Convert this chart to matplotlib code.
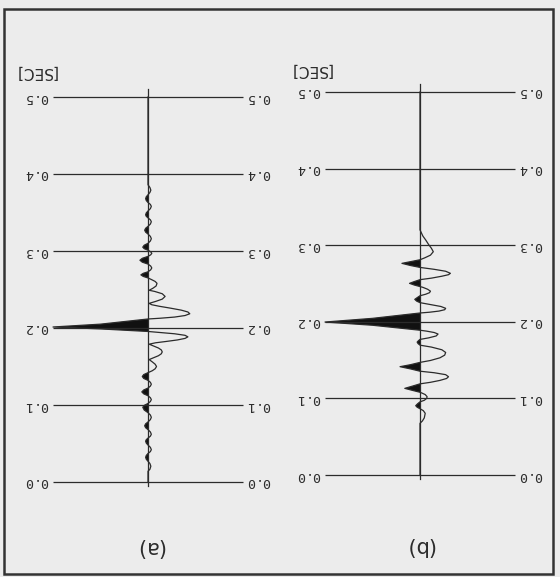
import matplotlib
matplotlib.use("Agg")
import matplotlib.pyplot as plt
import numpy as np
from matplotlib.patches import Rectangle

W, H, DPI = 560, 577, 100

time_ticks = [0.0, 0.1, 0.2, 0.3, 0.4, 0.5]
tick_labels = ["0.0", "0.1", "0.2", "0.3", "0.4", "0.5"]
panel_labels = ["(a)", "(b)"]
unit_label = "[SEC]"

# Trace (a): (time [s], amplitude normalised to the main peak; + is the filled side)
trace_a = [
    (0.000, 0.0), (0.014, 0.0),
    (0.0165, -0.02), (0.0205, -0.03), (0.024, -0.02), (0.027, 0.0),
    (0.0295, 0.018), (0.032, 0.025), (0.0345, 0.018), (0.037, 0.0),
    (0.0395, -0.025), (0.042, -0.035), (0.045, -0.025), (0.048, 0.0),
    (0.0505, 0.018), (0.053, 0.025), (0.055, 0.018), (0.057, 0.0),
    (0.0595, -0.025), (0.062, -0.035), (0.065, -0.025), (0.068, 0.0),
    (0.0705, 0.025), (0.073, 0.035), (0.0755, 0.025), (0.078, 0.0),
    (0.081, -0.025), (0.084, -0.035), (0.087, -0.025), (0.090, 0.0),
    (0.0935, 0.04), (0.097, 0.055), (0.0995, 0.04), (0.102, 0.0),
    (0.1045, -0.025), (0.107, -0.035), (0.1095, -0.025), (0.112, 0.0),
    (0.1145, 0.045), (0.117, 0.065), (0.1195, 0.045), (0.122, 0.0),
    (0.1245, -0.025), (0.127, -0.035), (0.1295, -0.025), (0.132, 0.0),
    (0.1345, 0.045), (0.137, 0.06), (0.1395, 0.045), (0.142, 0.0),
    (0.1445, -0.045), (0.147, -0.075), (0.150, -0.09), (0.153, -0.075),
    (0.156, -0.045), (0.159, -0.012),
    (0.1615, -0.06), (0.164, -0.11), (0.1665, -0.14), (0.169, -0.15),
    (0.1715, -0.14), (0.174, -0.11), (0.1765, -0.06), (0.179, -0.012),
    (0.1808, -0.08), (0.1825, -0.19), (0.1845, -0.31), (0.1865, -0.39),
    (0.1885, -0.42), (0.1905, -0.39), (0.1925, -0.28), (0.1940, -0.14),
    (0.1955, 0.0),
    (0.1988, 0.50), (0.2013, 1.00), (0.2050, 0.50), (0.2117, 0.0),
    (0.2127, -0.13), (0.2142, -0.28), (0.2162, -0.39), (0.2185, -0.44),
    (0.2208, -0.42), (0.2232, -0.35), (0.2257, -0.24), (0.2282, -0.12),
    (0.2302, -0.04), (0.232, -0.012),
    (0.2345, -0.08), (0.2375, -0.15), (0.241, -0.18), (0.2445, -0.15),
    (0.2475, -0.07), (0.249, -0.012),
    (0.2515, -0.05), (0.2545, -0.085), (0.258, -0.095), (0.2605, -0.075),
    (0.263, -0.035), (0.265, 0.0),
    (0.267, 0.05), (0.269, 0.075), (0.271, 0.05), (0.273, 0.0),
    (0.2755, -0.028), (0.278, -0.04), (0.2805, -0.028), (0.283, 0.0),
    (0.2855, 0.06), (0.288, 0.085), (0.2905, 0.06), (0.293, 0.0),
    (0.295, -0.028), (0.297, -0.04), (0.299, -0.028), (0.301, 0.0),
    (0.303, 0.04), (0.305, 0.055), (0.3075, 0.04), (0.310, 0.0),
    (0.313, -0.025), (0.316, -0.035), (0.319, -0.025), (0.322, 0.0),
    (0.3245, 0.025), (0.327, 0.035), (0.3295, 0.025), (0.332, 0.0),
    (0.335, -0.025), (0.338, -0.035), (0.3405, -0.025), (0.343, 0.0),
    (0.345, 0.018), (0.347, 0.025), (0.3495, 0.018), (0.352, 0.0),
    (0.355, -0.025), (0.358, -0.035), (0.3605, -0.025), (0.363, 0.0),
    (0.3655, 0.018), (0.368, 0.025), (0.3705, 0.018), (0.373, 0.0),
    (0.376, -0.02), (0.379, -0.03), (0.3825, -0.02), (0.386, 0.0),
    (0.500, 0.0),
]

# Trace (b)
trace_b = [
    (0.000, 0.0), (0.0675, 0.0),
    (0.0705, -0.025), (0.0745, -0.045), (0.0805, -0.055), (0.0840, -0.035),
    (0.0865, 0.0),
    (0.0885, 0.03), (0.0905, 0.045), (0.0930, 0.025), (0.0955, 0.0),
    (0.0975, -0.045), (0.1000, -0.07), (0.1022, -0.075), (0.1050, -0.055),
    (0.1070, -0.02), (0.108, 0.0),
    (0.1105, 0.08), (0.1131, 0.16), (0.1160, 0.08), (0.119, 0.0),
    (0.1210, -0.11), (0.1235, -0.21), (0.1260, -0.28), (0.1283, -0.30),
    (0.1310, -0.27), (0.1335, -0.15), (0.1355, 0.0),
    (0.1385, 0.10), (0.1414, 0.21), (0.1440, 0.10), (0.1470, 0.0),
    (0.1495, -0.11), (0.1530, -0.21), (0.1565, -0.26), (0.1600, -0.27),
    (0.1635, -0.23), (0.1670, -0.12), (0.1695, 0.0),
    (0.1715, 0.02), (0.1735, 0.03), (0.1755, 0.015), (0.1770, 0.0),
    (0.1790, -0.09), (0.1815, -0.17), (0.1840, -0.19), (0.1860, -0.15),
    (0.1878, -0.07), (0.1890, 0.0),
    (0.1955, 0.50), (0.1997, 1.00), (0.2045, 0.50), (0.2115, 0.0),
    (0.2125, -0.10), (0.2140, -0.20), (0.2158, -0.26), (0.2176, -0.27),
    (0.2200, -0.22), (0.2225, -0.11), (0.2250, 0.0),
    (0.2270, 0.035), (0.2293, 0.055), (0.2315, 0.03), (0.2340, 0.0),
    (0.2360, -0.06), (0.2380, -0.10), (0.2400, -0.11), (0.2425, -0.08),
    (0.2450, -0.03), (0.2460, 0.0),
    (0.2480, 0.06), (0.2502, 0.11), (0.2525, 0.06), (0.2550, 0.0),
    (0.2570, -0.12), (0.2595, -0.23), (0.2615, -0.30), (0.2633, -0.32),
    (0.2660, -0.27), (0.2685, -0.15), (0.2710, 0.0),
    (0.2735, 0.10), (0.2763, 0.19), (0.2785, 0.10), (0.2810, 0.0),
    (0.2835, -0.05), (0.2870, -0.11), (0.2915, -0.14), (0.2960, -0.12),
    (0.3010, -0.09), (0.3068, -0.06), (0.3120, -0.03), (0.3200, 0.0),
    (0.500, 0.0),
]

BG = "#ececec"
INK = "#2b2b2b"

fig = plt.figure(figsize=(W / DPI, H / DPI), dpi=DPI, facecolor=BG)


def px_axes(x0, x1, y_top, y_bot):
    """Axes placed by pixel edges (y measured from the top of the image)."""
    return fig.add_axes([x0 / W, 1 - y_bot / H, (x1 - x0) / W, (y_bot - y_top) / H])


def draw_panel(ax, trace, letter, sec_xy, letter_xy):
    t = np.array([p[0] for p in trace])
    a = np.array([p[1] for p in trace])
    ax.set_xlim(1.0, -1.0)
    ax.set_ylim(0.0, 0.5)
    ax.axis("off")
    ax.patch.set_alpha(0)

    # time lines with labels at both ends, written upside down
    for tv, lab in zip(time_ticks, tick_labels):
        ax.plot([1.0, -1.0], [tv, tv], color=INK, lw=0.9,
                solid_capstyle="butt", clip_on=False)
        for xa, dx in ((0.0, -17), (1.0, 15)):
            ax.annotate(lab, xy=(xa, tv), xycoords=ax.get_yaxis_transform(),
                        xytext=(dx * 0.72, 0), textcoords="offset points",
                        rotation=180, ha="center", va="center",
                        family="DejaVu Sans Mono", fontsize=9.5, color=INK)

    # zero line of the trace
    ax.plot([0, 0], [-0.005, 0.51], color=INK, lw=0.9, clip_on=False)
    # wiggle with filled positive lobes
    ax.fill_betweenx(t, 0, a, where=a > 0, interpolate=True,
                     color="#111111", lw=0)
    ax.plot(a, t, color=INK, lw=0.9, clip_on=False)

    fig.text(sec_xy[0] / W, 1 - sec_xy[1] / H, unit_label, rotation=180,
             ha="center", va="center", fontsize=11, color=INK)
    fig.text(letter_xy[0] / W, 1 - letter_xy[1] / H, letter, rotation=180,
             ha="center", va="center", fontsize=15, color=INK)


ax_a = px_axes(53, 243, 97, 482)
draw_panel(ax_a, trace_a, panel_labels[0], (36, 72), (150, 547))

ax_b = px_axes(325, 515, 92, 475)
draw_panel(ax_b, trace_b, panel_labels[1], (311, 70), (420, 546))

# page frame
fig.patches.append(Rectangle((4 / W, 1 - 574 / H), 549 / W, 565 / H,
                             transform=fig.transFigure, fill=False,
                             lw=1.8, ec="#333333"))

fig.savefig("out.png", dpi=DPI, facecolor=BG)
